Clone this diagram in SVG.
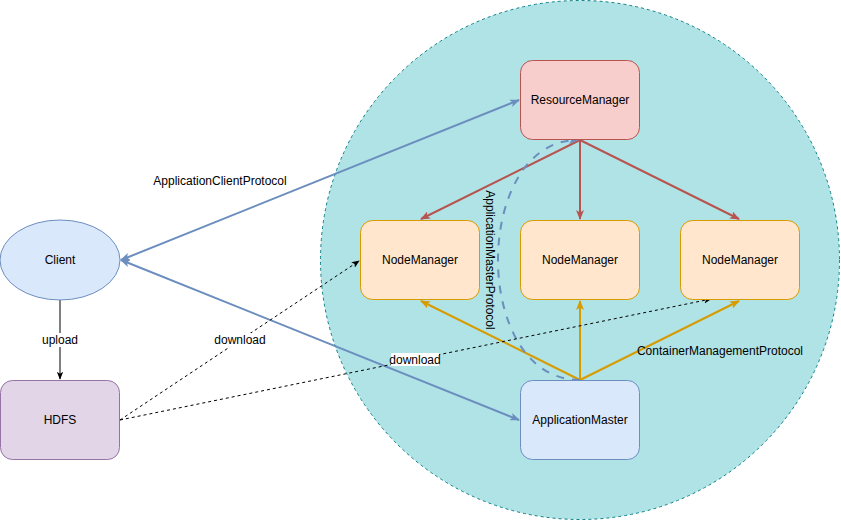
<svg xmlns="http://www.w3.org/2000/svg" width="841" height="521" viewBox="0 0 841 521">
  <style>
    text { font-family: "Liberation Sans", Arial, sans-serif; font-size: 12px; fill: #000; }
    .c { text-anchor: middle; dominant-baseline: central; }
    .rm { fill: #f8cecc; stroke: #b85450; stroke-width: 1; }
    .nm { fill: #ffe6cc; stroke: #d79b00; stroke-width: 1; }
    .am { fill: #dae8fc; stroke: #6c8ebf; stroke-width: 1; }
    .hdfs { fill: #e1d5e7; stroke: #9673a6; stroke-width: 1; }
    .blue { stroke: #6c8ebf; stroke-width: 2; fill: none; }
    .red { stroke: #b85450; stroke-width: 2; fill: none; }
    .orange { stroke: #d79b00; stroke-width: 2; fill: none; }
    .black { stroke: #000; stroke-width: 1; fill: none; }
    .dash { stroke-dasharray: 3 3; }
    .bluedash { stroke-dasharray: 8 8; }
    .lbl { fill: #fff; }
  </style>
  <defs>
    <marker id="arrBlue" viewBox="0 0 10 8" refX="9" refY="4" markerWidth="10" markerHeight="8" markerUnits="userSpaceOnUse" orient="auto-start-reverse">
      <path d="M0,0 L10,4 L0,8 L2.5,4 Z" fill="#6c8ebf"/>
    </marker>
    <marker id="arrRed" viewBox="0 0 10 8" refX="9" refY="4" markerWidth="10" markerHeight="8" markerUnits="userSpaceOnUse" orient="auto">
      <path d="M0,0 L10,4 L0,8 L2.5,4 Z" fill="#b85450"/>
    </marker>
    <marker id="arrOrange" viewBox="0 0 10 8" refX="9" refY="4" markerWidth="10" markerHeight="8" markerUnits="userSpaceOnUse" orient="auto">
      <path d="M0,0 L10,4 L0,8 L2.5,4 Z" fill="#d79b00"/>
    </marker>
    <marker id="arrBlack" viewBox="0 0 10 8" refX="9" refY="4" markerWidth="8" markerHeight="7" markerUnits="userSpaceOnUse" orient="auto">
      <path d="M0,0 L10,4 L0,8 L2.5,4 Z" fill="#000"/>
    </marker>
  </defs>

  <!-- cluster boundary -->
  <g id="cluster">
    <circle cx="580" cy="260" r="259.5" fill="#b0e3e6" stroke="#0e8088" stroke-width="1" stroke-dasharray="3 3"/>
  </g>

  <g id="connectors">
    <!-- client protocol links -->
    <line class="blue" x1="121" y1="260" x2="519" y2="100" marker-start="url(#arrBlue)" marker-end="url(#arrBlue)"/>
    <line class="blue" x1="121" y1="260" x2="519" y2="420" marker-start="url(#arrBlue)" marker-end="url(#arrBlue)"/>
    <!-- ResourceManager to NodeManagers -->
    <line class="red" x1="580" y1="140" x2="421" y2="219" marker-end="url(#arrRed)"/>
    <line class="red" x1="580" y1="140" x2="580" y2="219" marker-end="url(#arrRed)"/>
    <line class="red" x1="580" y1="140" x2="739" y2="219" marker-end="url(#arrRed)"/>
    <!-- ApplicationMaster to NodeManagers -->
    <line class="orange" x1="580" y1="380" x2="421" y2="301" marker-end="url(#arrOrange)"/>
    <line class="orange" x1="580" y1="380" x2="580" y2="301" marker-end="url(#arrOrange)"/>
    <line class="orange" x1="580" y1="380" x2="739" y2="301" marker-end="url(#arrOrange)"/>
    <!-- ApplicationMaster to ResourceManager -->
    <path class="blue bluedash" d="M580,380 C470,380 472,140 578,140" marker-end="url(#arrBlue)"/>
    <!-- upload / download -->
    <line class="black" x1="60" y1="300" x2="60" y2="379" marker-end="url(#arrBlack)"/>
    <line class="black dash" x1="120" y1="420" x2="359" y2="261" marker-end="url(#arrBlack)"/>
    <line class="black dash" x1="120" y1="420" x2="711" y2="299" marker-end="url(#arrBlack)"/>

    <!-- connector labels -->
    <text class="c" x="220" y="181">ApplicationClientProtocol</text>
    <rect class="lbl" x="42" y="333" width="36" height="14"/>
    <text class="c" x="60" y="340">upload</text>
    <rect class="lbl" x="216" y="333" width="49" height="14"/>
    <text class="c" x="240" y="340">download</text>
    <rect class="lbl" x="391" y="353" width="48" height="13"/>
    <text class="c" x="415" y="359.5">download</text>
    <text class="c" x="720" y="351">ContainerManagementProtocol</text>
    <text class="c" x="490" y="260" transform="rotate(90 490 260)">ApplicationMasterProtocol</text>
  </g>

  <g id="client">
    <ellipse class="am" cx="60" cy="260" rx="60" ry="40"/>
    <text class="c" x="60" y="260">Client</text>
  </g>
  <g id="hdfs">
    <rect class="hdfs" x="0.5" y="380.5" width="119" height="79" rx="12"/>
    <text class="c" x="60" y="420">HDFS</text>
  </g>
  <g id="resourcemanager">
    <rect class="rm" x="520.5" y="60.5" width="119" height="79" rx="12"/>
    <text class="c" x="580" y="100">ResourceManager</text>
  </g>
  <g id="nodemanager1">
    <rect class="nm" x="360.5" y="220.5" width="119" height="79" rx="12"/>
    <text class="c" x="420" y="260">NodeManager</text>
  </g>
  <g id="nodemanager2">
    <rect class="nm" x="520.5" y="220.5" width="119" height="79" rx="12"/>
    <text class="c" x="580" y="260">NodeManager</text>
  </g>
  <g id="nodemanager3">
    <rect class="nm" x="680.5" y="220.5" width="119" height="79" rx="12"/>
    <text class="c" x="740" y="260">NodeManager</text>
  </g>
  <g id="applicationmaster">
    <rect class="am" x="520.5" y="380.5" width="119" height="79" rx="12"/>
    <text class="c" x="580" y="420">ApplicationMaster</text>
  </g>
</svg>
